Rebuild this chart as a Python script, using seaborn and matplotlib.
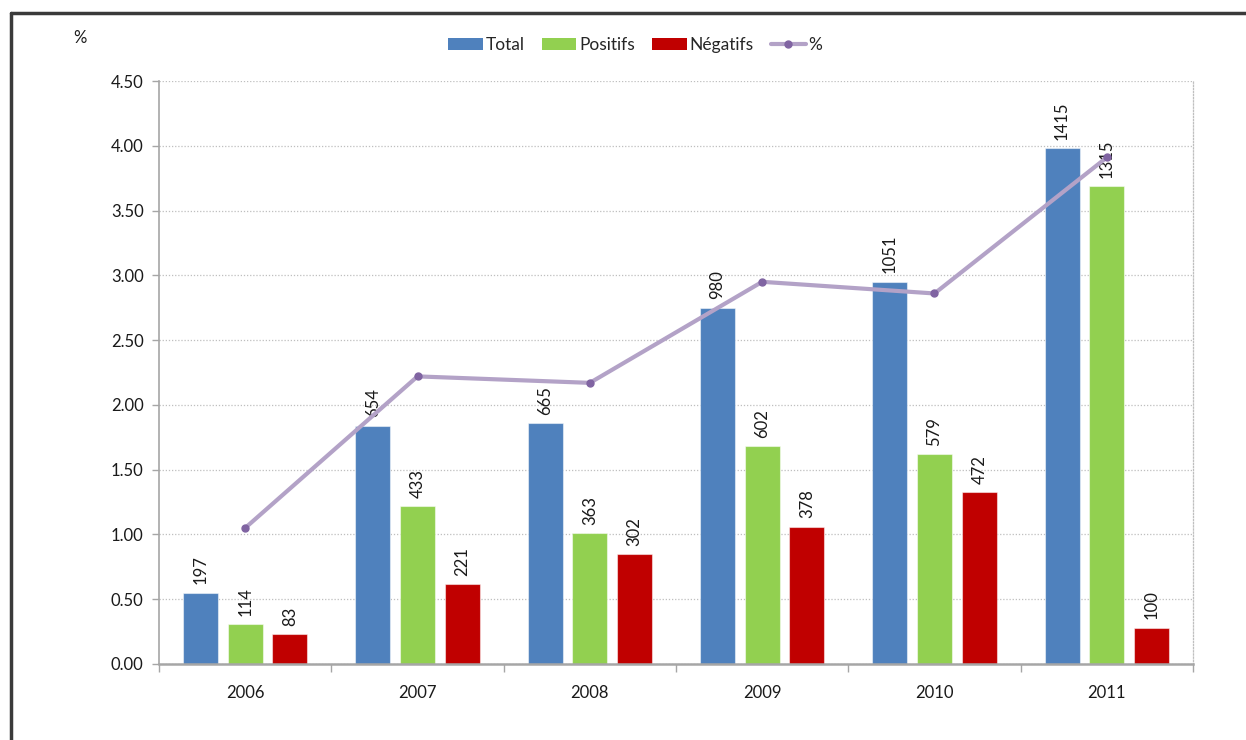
import matplotlib
matplotlib.use('Agg')
import matplotlib.pyplot as plt
import seaborn as sns
import pandas as pd
import numpy as np
from matplotlib.lines import Line2D
from matplotlib.patches import Patch

# ---- data ----
years = ['2006', '2007', '2008', '2009', '2010', '2011']
series = ['Total', 'Positifs', 'Négatifs']
total_pct = [0.55, 1.84, 1.86, 2.75, 2.95, 3.98]
positifs_pct = [0.31, 1.22, 1.01, 1.68, 1.62, 3.69]
negatifs_pct = [0.23, 0.615, 0.85, 1.06, 1.325, 0.28]
total_n = [197, 654, 665, 980, 1051, 1415]
positifs_n = [114, 433, 363, 602, 579, 1315]
negatifs_n = [83, 221, 302, 378, 472, 100]
pct_line = [1.05, 2.22, 2.17, 2.95, 2.86, 3.91]
yticks = [0.0, 0.5, 1.0, 1.5, 2.0, 2.5, 3.0, 3.5, 4.0, 4.5]

colors = {'Total': '#4F81BD', 'Positifs': '#92D050', 'Négatifs': '#C00000'}
line_color = '#B3A2C7'
marker_color = '#8064A2'

df = pd.DataFrame({
    'year': years * 3,
    'series': [s for s in series for _ in years],
    'value': total_pct + positifs_pct + negatifs_pct,
})
counts = {'Total': total_n, 'Positifs': positifs_n, 'Négatifs': negatifs_n}

sns.set_theme(style='white')
plt.rcParams['font.family'] = ['Lato', 'DejaVu Sans']

W, H = 1246, 740
fig = plt.figure(figsize=(W / 100, H / 100), dpi=100)
ax = fig.add_axes([159 / W, 1 - 664 / H, (1193 - 159) / W, (664 - 81) / H])

sns.barplot(data=df, x='year', y='value', hue='series', order=years,
            hue_order=series, palette=colors, saturation=1, width=0.78, gap=0.22,
            errorbar=None, legend=False, ax=ax,
            edgecolor=(1, 1, 1, 0.5), linewidth=0.8, zorder=2)

for cont, s in zip(ax.containers, series):
    ax.bar_label(cont, labels=[str(v) for v in counts[s]], rotation=90,
                 padding=6, fontsize=12, color='#1a1a1a', zorder=4)

ax.plot(np.arange(len(years)), pct_line, color=line_color, lw=3,
        marker='o', ms=5, mfc=marker_color, mec=marker_color, zorder=5,
        solid_capstyle='round')

ax.set_xlim(-0.5, len(years) - 0.5)
ax.set_ylim(0, 4.5)
ax.set_yticks(yticks)
ax.set_yticklabels([f'{v:.2f}' for v in yticks])
ax.set_xlabel('')
ax.set_ylabel('')

ax.set_xticks(np.arange(-0.5, len(years), 1), minor=True)
ax.tick_params(axis='x', which='major', length=0, pad=15, labelsize=12,
               labelcolor='#1a1a1a')
ax.tick_params(axis='x', which='minor', length=6, width=1, color='#A6A6A6',
               direction='out', bottom=True)
ax.tick_params(axis='y', length=5, width=1, color='#A6A6A6', direction='out',
               left=True, pad=6, labelsize=12, labelcolor='#1a1a1a')

ax.yaxis.grid(True, linestyle=(0, (1, 1.5)), color='#BFBFBF', lw=0.9, zorder=0)
ax.xaxis.grid(False)
ax.set_axisbelow(True)

ax.spines['top'].set_visible(False)
ax.spines['right'].set_visible(True)
ax.spines['right'].set_linestyle((0, (1, 1.5)))
ax.spines['right'].set_color('#BFBFBF')
ax.spines['right'].set_linewidth(0.9)
ax.spines['left'].set_color('#A6A6A6')
ax.spines['left'].set_linewidth(1.2)
ax.spines['bottom'].set_color('#A6A6A6')
ax.spines['bottom'].set_linewidth(1.8)

handles = [Patch(facecolor=colors[s], edgecolor='none') for s in series]
handles.append(Line2D([0], [0], color=line_color, lw=3, marker='o', ms=5,
                      mfc=marker_color, mec=marker_color))
fig.legend(handles, series + ['%'], loc='center',
           bbox_to_anchor=(635 / W, 1 - 45 / H), ncol=4, frameon=False,
           fontsize=12.5, handlelength=2.0, handleheight=0.7,
           handletextpad=0.15, columnspacing=1.0)

fig.text(80 / W, 1 - 38 / H, '%', fontsize=12, ha='center', va='center',
         color='#1a1a1a')

# outer frame (left and top edges visible in the reference)
fig.add_artist(Line2D([11 / W, 11 / W], [0, 1 - 13 / H], transform=fig.transFigure,
                      color='#3a3a3a', lw=2.5))
fig.add_artist(Line2D([11 / W, 1], [1 - 13 / H, 1 - 13 / H], transform=fig.transFigure,
                      color='#3a3a3a', lw=2.5))

fig.savefig('out.png', dpi=100, facecolor='white')
